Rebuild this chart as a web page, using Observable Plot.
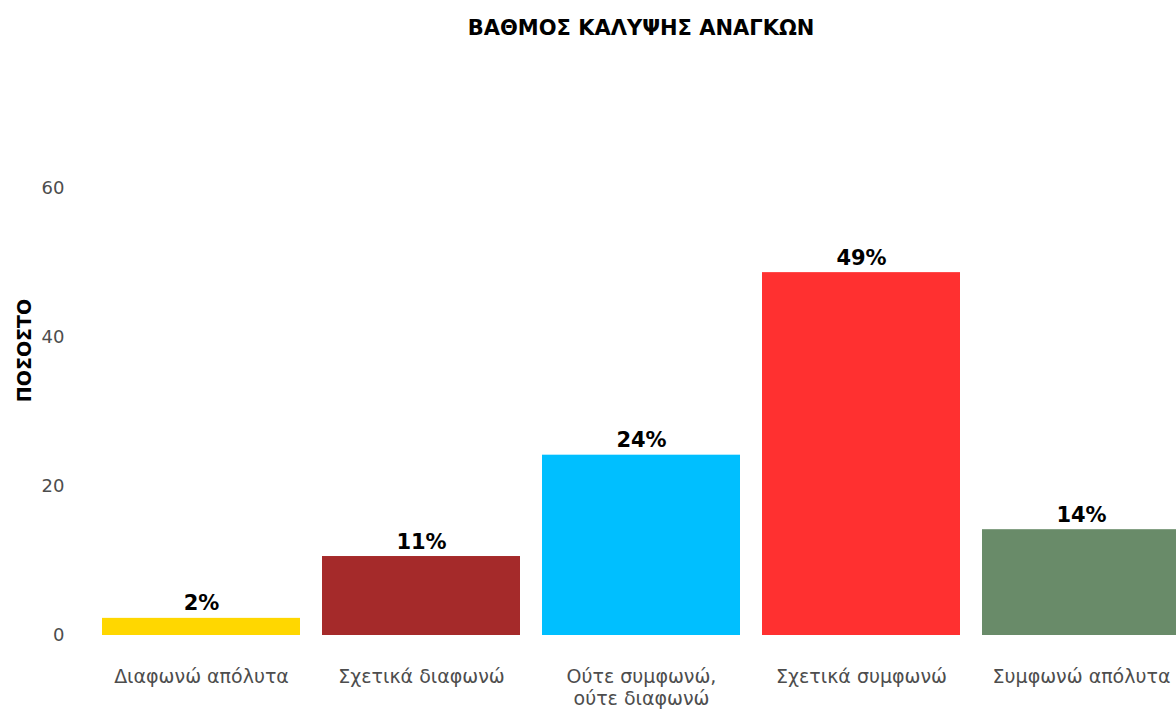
<!DOCTYPE html>
<html>
<head>
<meta charset="utf-8">
<script src="https://cdn.jsdelivr.net/npm/d3@7"></script>
<script src="https://cdn.jsdelivr.net/npm/@observablehq/plot@0.6"></script>
<style>
  html, body { margin: 0; padding: 0; background: #fff; }
  body { width: 1176px; height: 709px; overflow: hidden; font-family: "DejaVu Sans", sans-serif; }
  #title { box-sizing: border-box; width: 1176px; height: 56px; line-height: 56px; padding-left: 106px; text-align: center; font-weight: bold; font-size: 21px; color: #000; }
  #chart svg { display: block; }
</style>
</head>
<body>
<div id="title">ΒΑΘΜΟΣ ΚΑΛΥΨΗΣ ΑΝΑΓΚΩΝ</div>
<div id="chart"></div>
<script>
const categories = ["Διαφωνώ απόλυτα", "Σχετικά διαφωνώ", "Ούτε συμφωνώ,\nούτε διαφωνώ", "Σχετικά συμφωνώ", "Συμφωνώ απόλυτα"];
const values = [2.3, 10.6, 24.2, 48.7, 14.2];
const labels = ["2%", "11%", "24%", "49%", "14%"];
const colors = ["#FFD700", "#A52A2A", "#00BFFF", "#FF3030", "#698B69"];
const yTicks = [0, 20, 40, 60];

const data = categories.map((c, i) => ({category: c, value: values[i], label: labels[i]}));

const chart = Plot.plot({
  width: 1176,
  height: 653,
  marginLeft: 70,
  marginRight: 0,
  marginTop: 9,
  marginBottom: 74,
  style: {fontFamily: "'DejaVu Sans', sans-serif", background: "#fff"},
  x: {domain: categories, range: [91, 1191], padding: 0.1, paddingOuter: 0.05, label: null, axis: null},
  y: {domain: [0, 76.5], label: null, axis: null},
  color: {domain: categories, range: colors},
  marks: [
    Plot.barY(data, {x: "category", y: "value", fill: "category"}),
    Plot.text(data, {x: "category", y: "value", text: "label", lineAnchor: "bottom", dy: -8, fontWeight: "bold", fontSize: 21, fill: "#000"}),
    Plot.axisY({ticks: yTicks, tickSize: 0, tickPadding: 6, fontSize: 18, color: "#4D4D4D", label: null}),
    Plot.axisX({tickSize: 0, tickPadding: 31, fontSize: 19, color: "#4D4D4D", lineHeight: 1.2, label: null}),
    Plot.text(["ΠΟΣΟΣΤΟ"], {frameAnchor: "left", textAnchor: "middle", dx: -46, rotate: -90, fontWeight: "bold", fontSize: 19, fill: "#000"})
  ]
});
document.getElementById("chart").appendChild(chart);
</script>
</body>
</html>
